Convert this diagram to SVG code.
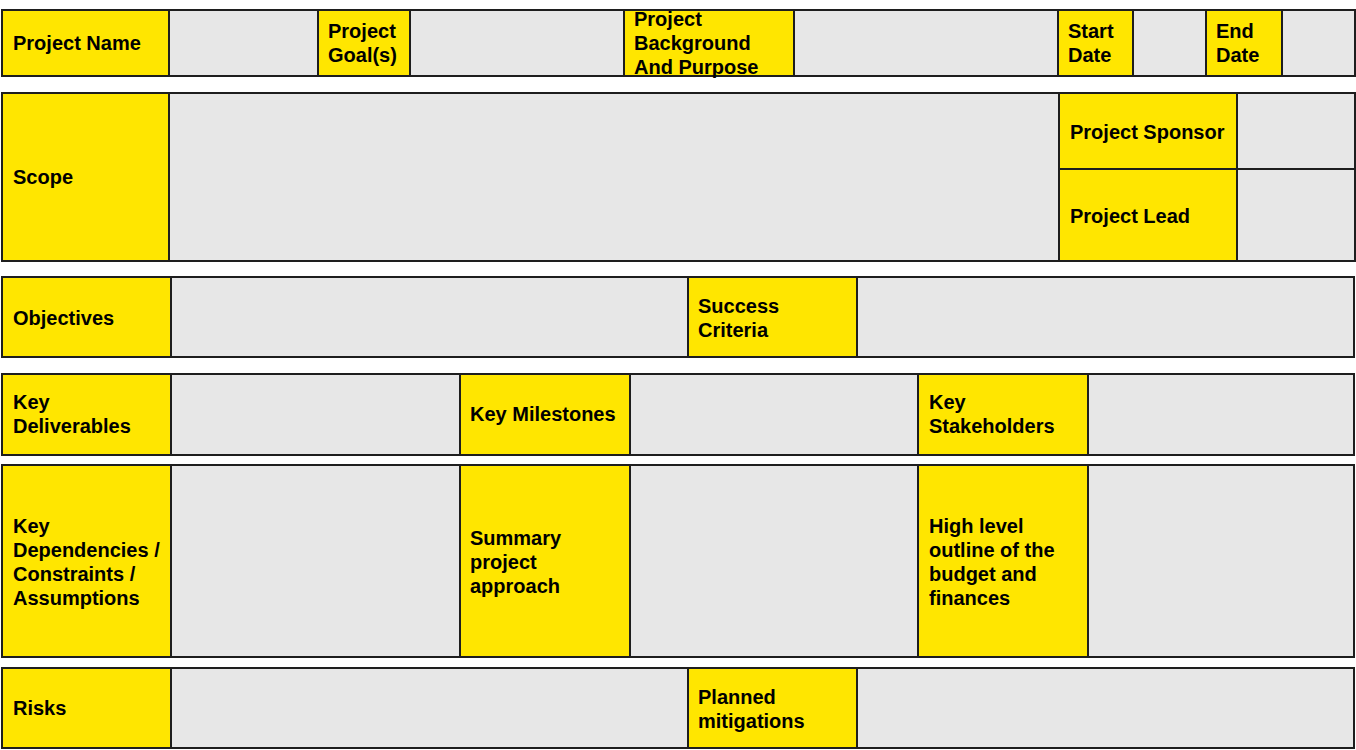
<svg xmlns="http://www.w3.org/2000/svg" width="1356" height="750" viewBox="0 0 1356 750">
<style>
.y{fill:#FFE600;stroke:#1E1E1E;stroke-width:2}
.g{fill:#E7E7E7;stroke:#1E1E1E;stroke-width:2}
text{font-family:"Liberation Sans",Arial,sans-serif;font-weight:bold;font-size:20px;fill:#000}
</style>
<rect width="1356" height="750" fill="#fff"/>
<g id="row1">
<g id="project-name"><rect class="y" x="2" y="10" width="167" height="66"/><text x="13" y="50">Project Name</text></g>
<g id="project-name-value"><rect class="g" x="169" y="10" width="149" height="66"/></g>
<g id="project-goals"><rect class="y" x="318" y="10" width="92" height="66"/><text x="328" y="38">Project</text><text x="328" y="62">Goal(s)</text></g>
<g id="project-goals-value"><rect class="g" x="410" y="10" width="214" height="66"/></g>
<g id="project-background"><rect class="y" x="624" y="10" width="170" height="66"/><text x="634" y="26">Project</text><text x="634" y="50">Background</text><text x="634" y="74">And Purpose</text></g>
<g id="project-background-value"><rect class="g" x="794" y="10" width="264" height="66"/></g>
<g id="start-date"><rect class="y" x="1058" y="10" width="75" height="66"/><text x="1068" y="38">Start</text><text x="1068" y="62">Date</text></g>
<g id="start-date-value"><rect class="g" x="1133" y="10" width="73" height="66"/></g>
<g id="end-date"><rect class="y" x="1206" y="10" width="76" height="66"/><text x="1216" y="38">End</text><text x="1216" y="62">Date</text></g>
<g id="end-date-value"><rect class="g" x="1282" y="10" width="73" height="66"/></g>
</g>
<g id="row2">
<g id="scope"><rect class="y" x="2" y="93" width="167" height="168"/><text x="13" y="184">Scope</text></g>
<g id="scope-value"><rect class="g" x="169" y="93" width="890" height="168"/></g>
<g id="project-sponsor"><rect class="y" x="1059" y="93" width="178" height="76"/><text x="1070" y="139">Project Sponsor</text></g>
<g id="project-sponsor-value"><rect class="g" x="1237" y="93" width="118" height="76"/></g>
<g id="project-lead"><rect class="y" x="1059" y="169" width="178" height="92"/><text x="1070" y="223">Project Lead</text></g>
<g id="project-lead-value"><rect class="g" x="1237" y="169" width="118" height="92"/></g>
</g>
<g id="row3">
<g id="objectives"><rect class="y" x="2" y="277" width="169" height="80"/><text x="13" y="325">Objectives</text></g>
<g id="objectives-value"><rect class="g" x="171" y="277" width="517" height="80"/></g>
<g id="success-criteria"><rect class="y" x="688" y="277" width="169" height="80"/><text x="698" y="313">Success</text><text x="698" y="337">Criteria</text></g>
<g id="success-criteria-value"><rect class="g" x="857" y="277" width="497" height="80"/></g>
</g>
<g id="row4">
<g id="key-deliverables"><rect class="y" x="2" y="374" width="169" height="81"/><text x="13" y="409">Key</text><text x="13" y="433">Deliverables</text></g>
<g id="key-deliverables-value"><rect class="g" x="171" y="374" width="289" height="81"/></g>
<g id="key-milestones"><rect class="y" x="460" y="374" width="170" height="81"/><text x="470" y="421">Key Milestones</text></g>
<g id="key-milestones-value"><rect class="g" x="630" y="374" width="288" height="81"/></g>
<g id="key-stakeholders"><rect class="y" x="918" y="374" width="170" height="81"/><text x="929" y="409">Key</text><text x="929" y="433">Stakeholders</text></g>
<g id="key-stakeholders-value"><rect class="g" x="1088" y="374" width="266" height="81"/></g>
</g>
<g id="row5">
<g id="key-dependencies"><rect class="y" x="2" y="465" width="169" height="192"/><text x="13" y="533">Key</text><text x="13" y="557">Dependencies /</text><text x="13" y="581">Constraints /</text><text x="13" y="605">Assumptions</text></g>
<g id="key-dependencies-value"><rect class="g" x="171" y="465" width="289" height="192"/></g>
<g id="summary-approach"><rect class="y" x="460" y="465" width="170" height="192"/><text x="470" y="545">Summary</text><text x="470" y="569">project</text><text x="470" y="593">approach</text></g>
<g id="summary-approach-value"><rect class="g" x="630" y="465" width="288" height="192"/></g>
<g id="budget-outline"><rect class="y" x="918" y="465" width="170" height="192"/><text x="929" y="533">High level</text><text x="929" y="557">outline of the</text><text x="929" y="581">budget and</text><text x="929" y="605">finances</text></g>
<g id="budget-outline-value"><rect class="g" x="1088" y="465" width="266" height="192"/></g>
</g>
<g id="row6">
<g id="risks"><rect class="y" x="2" y="668" width="169" height="80"/><text x="13" y="715">Risks</text></g>
<g id="risks-value"><rect class="g" x="171" y="668" width="517" height="80"/></g>
<g id="planned-mitigations"><rect class="y" x="688" y="668" width="169" height="80"/><text x="698" y="704">Planned</text><text x="698" y="728">mitigations</text></g>
<g id="planned-mitigations-value"><rect class="g" x="857" y="668" width="497" height="80"/></g>
</g>
<g id="connectors"></g>
</svg>
